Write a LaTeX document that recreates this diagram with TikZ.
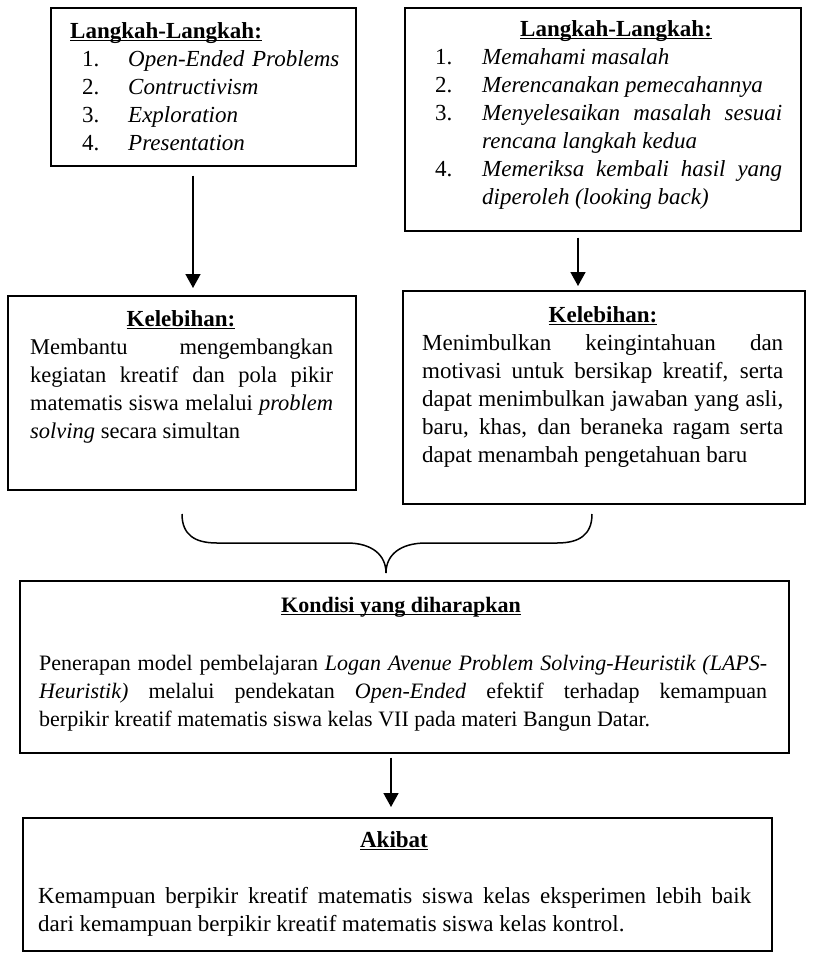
\documentclass[tikz,border=0pt]{standalone}
\usepackage{fontspec}
\setmainfont{Liberation Serif}
\usetikzlibrary{arrows.meta}

\newsavebox{\hdbox}
\newcommand{\hd}[1]{\sbox{\hdbox}{\textbf{#1}}\usebox{\hdbox}\llap{\rule[-3.2pt]{\wd\hdbox}{1.3pt}}}
\newcommand{\bigsz}{\fontsize{23}{28}\selectfont}
\newcommand{\midsz}{\fontsize{22.5}{28}\selectfont}
\newcommand{\lowsz}{\fontsize{22}{28}\selectfont}
\newcommand{\itm}[2]{{\leftskip=47pt\noindent\strut\llap{\makebox[47pt][l]{#1}}\textit{#2}\par}}

\begin{document}
\begin{tikzpicture}[x=1pt, y=-1pt,
  box/.style={draw, line width=1.5pt, inner sep=0, anchor=north west},
  hd/.style={anchor=base, inner sep=0, font=\bigsz},
  txt/.style={anchor=north west, inner sep=0, align=justify, font=\bigsz},
  arr/.style={line width=1.6pt, ->, >={Triangle[width=15pt,length=14pt]}}]
\useasboundingbox (0,0) rectangle (812,954);

\node[box, minimum width=305pt, minimum height=158pt] (langA) at (50,7) {};
\node[box, minimum width=396pt, minimum height=223pt] (langB) at (404,7) {};
\node[box, minimum width=348pt, minimum height=194pt] (lebA) at (7,295) {};
\node[box, minimum width=402pt, minimum height=213pt] (lebB) at (402,290) {};
\node[box, minimum width=769pt, minimum height=172pt] (kondisi) at (19,580) {};
\node[box, minimum width=749pt, minimum height=133pt] (akibat) at (22,817) {};

\node[hd, anchor=base west] (langA-hd) at (70,38) {\hd{Langkah-Langkah:}};
\node[txt, align=left, text width=263pt] (langA-txt) at (82,46.4) {\strut\makebox[46pt][l]{1.}\textit{Open-Ended Problems}\\
  \makebox[46pt][l]{2.}\textit{Contructivism}\\
  \makebox[46pt][l]{3.}\textit{Exploration}\\
  \makebox[46pt][l]{4.}\textit{Presentation}};

\node[hd, anchor=base west] (langB-hd) at (520,36) {\hd{Langkah-Langkah:}};
\node[txt, text width=347pt] (langB-txt) at (435,44.4) {\itm{1.}{Memahami masalah}\itm{2.}{Merencanakan pemecahannya}\itm{3.}{Menyelesaikan masalah sesuai\linebreak rencana langkah kedua}\itm{4.}{Memeriksa kembali hasil yang\linebreak diperoleh (looking back)}};

\node[hd] (lebA-hd) at (181,326) {\hd{Kelebihan:}};
\node[txt, font=\midsz, text width=303pt] (lebA-txt) at (30,334.4) {\noindent\strut Membantu mengembangkan\linebreak kegiatan kreatif dan pola pikir\linebreak matematis siswa melalui \textit{problem}\linebreak \textit{solving} secara simultan};

\node[hd] (lebB-hd) at (603,322) {\hd{Kelebihan:}};
\node[txt, text width=361pt] (lebB-txt) at (422,330.4) {\noindent\strut Menimbulkan keingintahuan dan\linebreak motivasi untuk bersikap kreatif, serta\linebreak dapat menimbulkan jawaban yang asli,\linebreak baru, khas, dan beraneka ragam serta\linebreak dapat menambah pengetahuan baru};

\draw[line width=1.5pt] (182,514) .. controls (182,535) and (195,543) .. (217,543) -- (347,543)
  .. controls (372,543) and (386,555) .. (386,573) .. controls (386,555) and (400,543) .. (426,543)
  -- (557,543) .. controls (579,543) and (592,535) .. (592,514);

\node[hd, font=\lowsz] (kondisi-hd) at (401,612) {\hd{Kondisi yang diharapkan}};
\node[txt, font=\lowsz, text width=728pt] (kondisi-txt) at (39,650.4) {\noindent\strut Penerapan model pembelajaran \textit{Logan Avenue Problem Solving-Heuristik (LAPS-}\linebreak \textit{Heuristik)} melalui pendekatan \textit{Open-Ended} efektif terhadap kemampuan\linebreak berpikir kreatif matematis siswa kelas VII pada materi Bangun Datar.};

\node[hd] (akibat-hd) at (394,847) {\hd{Akibat}};
\node[txt, text width=713pt] (akibat-txt) at (38,883.4) {\noindent\strut Kemampuan berpikir kreatif matematis siswa kelas eksperimen lebih baik\linebreak dari kemampuan berpikir kreatif matematis siswa kelas kontrol.};

\coordinate (arA) at (193,0);
\coordinate (arB) at (578,0);
\coordinate (arC) at (391,0);
\draw[arr, shorten <=9pt, shorten >=7pt] (langA.south -| arA) -- (lebA.north -| arA);
\draw[arr, shorten <=6pt, shorten >=4pt] (langB.south -| arB) -- (lebB.north -| arB);
\draw[arr, shorten <=4pt, shorten >=10pt] (kondisi.south -| arC) -- (akibat.north -| arC);
\end{tikzpicture}
\end{document}
